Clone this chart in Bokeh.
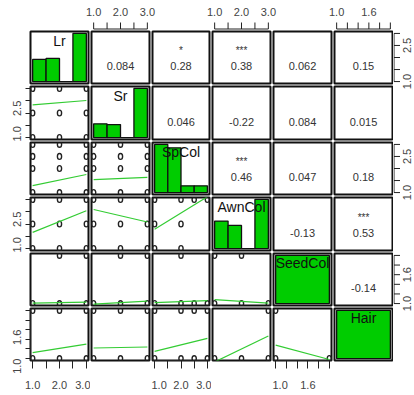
import math
from bokeh.plotting import figure
from bokeh.layouts import column, row
from bokeh.models import Range1d, FixedTicker, PrintfTickFormatter, AllLabels, Spacer
from bokeh.core.properties import value
from bokeh.embed import file_html
from bokeh.resources import INLINE

FONT = "Liberation Sans"

# ---------------- data ----------------
names = ["Lr", "Sr", "SpCol", "AwnCol", "SeedCol", "Hair"]
var_min = [1.0, 1.0, 1.0, 1.0, 1.0, 1.0]
var_max = [3.0, 3.0, 3.0, 3.0, 2.0, 2.0]

# histogram bins and relative bar heights (diagonal)
bins_3 = [1.0, 1.5, 2.0, 2.5, 3.0]
bins_2 = [1.0, 2.0]
hist_Lr = [0.46, 0.48, 0.0, 1.0]
hist_Sr = [0.28, 0.265, 0.0, 1.0]
hist_SpCol = [1.0, 0.93, 0.14, 0.14]
hist_AwnCol = [0.56, 0.47, 0.0, 1.0]
hist_SeedCol = [1.0]
hist_Hair = [1.0]

# correlations (upper triangle), row by row
cor_Lr = [0.084, 0.28, 0.38, 0.062, 0.15]
cor_Sr = [0.046, -0.22, 0.084, 0.015]
cor_SpCol = [0.46, 0.047, 0.18]
cor_AwnCol = [-0.13, 0.53]
cor_SeedCol = [-0.14]
stars_Lr = ["", "*", "***", "", ""]
stars_Sr = ["", "", "", ""]
stars_SpCol = ["***", "", ""]
stars_AwnCol = ["", "***"]
stars_SeedCol = [""]

# observed (x, y) combinations in lower panels: x = column var, y = row var
pts_Sr_Lr = [(1, 1), (2, 1), (3, 1), (1, 2), (2, 2), (3, 2), (1, 3), (2, 3), (3, 3)]
pts_SpCol_Lr = [(1, 1), (2, 1), (3, 1), (1, 2), (2, 2), (3, 2), (1, 2.5), (2, 2.5), (3, 2.5), (1, 3), (2, 3), (3, 3)]
pts_SpCol_Sr = [(1, 1), (2, 1), (3, 1), (1, 2), (2, 2), (3, 2), (1, 2.5), (2, 2.5), (3, 2.5), (1, 3), (2, 3), (3, 3)]
pts_AwnCol_Lr = [(1, 1), (2, 1), (3, 1), (1, 2), (2, 2), (3, 2), (1, 3), (2, 3), (3, 3)]
pts_AwnCol_Sr = [(1, 1), (2, 1), (3, 1), (1, 2), (2, 2), (3, 2), (1, 3), (2, 3), (3, 3)]
pts_AwnCol_SpCol = [(1, 1), (2, 1), (1, 2), (2, 2), (1, 3), (2, 3), (2.5, 3), (3, 3)]
pts_SeedCol_Lr = [(1, 1), (2, 1), (3, 1), (2, 2), (3, 2)]
pts_SeedCol_Sr = [(1, 1), (2, 1), (3, 1), (2, 2), (3, 2)]
pts_SeedCol_SpCol = [(1, 1), (2, 1), (2.5, 1), (3, 1), (2, 2)]
pts_SeedCol_AwnCol = [(1, 1), (2, 1), (3, 1), (1, 2), (2, 2)]
pts_Hair_Lr = [(1, 1), (2, 1), (3, 1), (1, 2), (2, 2), (3, 2)]
pts_Hair_Sr = [(1, 1), (2, 1), (3, 1), (1, 2), (2, 2), (3, 2)]
pts_Hair_SpCol = [(1, 1), (2, 1), (2.5, 1), (3, 1), (1, 2), (2, 2), (2.5, 2), (3, 2)]
pts_Hair_AwnCol = [(1, 1), (2, 1), (3, 1), (3, 2)]
pts_Hair_SeedCol = [(1, 1), (2, 1), (1, 2)]

# smoother line: y at x-min and at x-max
fit_Sr_Lr = [2.33, 2.51]
fit_SpCol_Lr = [1.29, 1.75]
fit_SpCol_Sr = [1.54, 1.63]
fit_AwnCol_Lr = [1.66, 2.54]
fit_AwnCol_Sr = [2.59, 2.08]
fit_AwnCol_SpCol = [1.79, 3.11]
fit_SeedCol_Lr = [1.01, 1.03]
fit_SeedCol_Sr = [0.99, 1.05]
fit_SeedCol_SpCol = [1.02, 1.06]
fit_SeedCol_AwnCol = [1.08, 1.01]
fit_Hair_Lr = [1.125, 1.30]
fit_Hair_Sr = [1.22, 1.24]
fit_Hair_SpCol = [1.15, 1.42]
fit_Hair_AwnCol = [0.93, 1.47]
fit_Hair_SeedCol = [1.28, 0.98]

# axis ticks (labelled / unlabelled)
ticks3_x_lab = [1.0, 2.0, 3.0]
ticks3_x_min = [1.5, 2.5]
ticks3_y_lab = [1.0, 2.5]
ticks3_y_min = [1.5, 2.0, 3.0]
ticks2_lab = [1.0, 1.6]
ticks2_min = [1.2, 1.4, 1.8, 2.0]

# --------------- assembly ---------------
hist_all = [(bins_3, hist_Lr), (bins_3, hist_Sr), (bins_3, hist_SpCol),
            (bins_3, hist_AwnCol), (bins_2, hist_SeedCol), (bins_2, hist_Hair)]
cor_rows = [cor_Lr, cor_Sr, cor_SpCol, cor_AwnCol, cor_SeedCol]
star_rows = [stars_Lr, stars_Sr, stars_SpCol, stars_AwnCol, stars_SeedCol]
lower = {
    (1, 0): (pts_Sr_Lr, fit_Sr_Lr),
    (2, 0): (pts_SpCol_Lr, fit_SpCol_Lr), (2, 1): (pts_SpCol_Sr, fit_SpCol_Sr),
    (3, 0): (pts_AwnCol_Lr, fit_AwnCol_Lr), (3, 1): (pts_AwnCol_Sr, fit_AwnCol_Sr),
    (3, 2): (pts_AwnCol_SpCol, fit_AwnCol_SpCol),
    (4, 0): (pts_SeedCol_Lr, fit_SeedCol_Lr), (4, 1): (pts_SeedCol_Sr, fit_SeedCol_Sr),
    (4, 2): (pts_SeedCol_SpCol, fit_SeedCol_SpCol), (4, 3): (pts_SeedCol_AwnCol, fit_SeedCol_AwnCol),
    (5, 0): (pts_Hair_Lr, fit_Hair_Lr), (5, 1): (pts_Hair_Sr, fit_Hair_Sr),
    (5, 2): (pts_Hair_SpCol, fit_Hair_SpCol), (5, 3): (pts_Hair_AwnCol, fit_Hair_AwnCol),
    (5, 4): (pts_Hair_SeedCol, fit_Hair_SeedCol),
}

frame_w = [58, 58, 57, 58, 58, 58]
frame_h = [52, 53, 52, 53, 52, 52]
B_LEFT, B_BOTTOM = 30, 34
TOP_STRIP = 30      # height of the strip carrying the top axes
RIGHT_STRIP = 20    # width of the strip carrying the right axes
EXT = 9             # how far an axis strip reaches past its panel
TOTAL_W = 413
TOTAL_H = 394

panel_left = [B_LEFT]
for j in range(1, 6):
    panel_left.append(panel_left[-1] + frame_w[j - 1] + 3)
panel_top = [TOP_STRIP + 1]
for i in range(1, 6):
    panel_top.append(panel_top[-1] + frame_h[i - 1] + 3)

TICK_COLOR = "#222222"
LABEL_COLOR = "#444444"


def padded(lo, hi):
    d = (hi - lo) * 0.04
    return lo - d, hi + d


def pad_range(lo, hi):
    a, b = padded(lo, hi)
    return Range1d(a, b)


def tick_sets(k, is_x):
    if var_max[k] == 2.0:
        return ticks2_lab, ticks2_min
    if is_x:
        return ticks3_x_lab, ticks3_x_min
    return ticks3_y_lab, ticks3_y_min


def style_axis(ax, k, is_x, tick_out, standoff, rotate):
    lab, mnr = tick_sets(k, is_x)
    ax.ticker = FixedTicker(ticks=lab, minor_ticks=mnr)
    ax.formatter = PrintfTickFormatter(format="%.1f")
    ax.major_label_policy = AllLabels()
    ax.axis_line_color = TICK_COLOR
    ax.major_tick_line_color = TICK_COLOR
    ax.minor_tick_line_color = TICK_COLOR
    ax.major_tick_in = 0
    ax.minor_tick_in = 0
    ax.major_tick_out = tick_out
    ax.minor_tick_out = tick_out
    ax.major_label_standoff = standoff
    ax.major_label_text_font = FONT
    ax.major_label_text_font_size = "11px"
    ax.major_label_text_color = LABEL_COLOR
    if rotate:
        ax.major_label_orientation = math.pi / 2


def bare(p):
    p.grid.visible = False
    p.outline_line_color = None
    p.background_fill_color = "white"
    p.border_fill_color = "white"
    return p


def make_fig(i, j, xr, yr):
    xloc = "below" if (i == 5 and j % 2 == 0) else None
    yloc = "left" if (j == 0 and i % 2 == 1) else None
    p = figure(frame_width=frame_w[j], frame_height=frame_h[i], x_range=xr, y_range=yr,
               output_backend="svg", toolbar_location=None, tools="",
               x_axis_location=xloc, y_axis_location=yloc,
               min_border_left=B_LEFT if j == 0 else 1,
               min_border_right=2 if j < 5 else 1,
               min_border_top=1,
               min_border_bottom=B_BOTTOM if i == 5 else 2)
    p.grid.visible = False
    p.outline_line_color = "#111111"
    p.outline_line_width = 2
    p.background_fill_color = "white"
    p.border_fill_color = "white"
    if xloc == "below":
        style_axis(p.xaxis[0], j, True, 8, 12, False)
    if yloc == "left":
        style_axis(p.yaxis[0], i, False, 5, 8, True)
    return p


def top_strip(j, a, b):
    # top axis of column j; the strip's x scale equals the column's scale
    lo, hi = padded(var_min[j], var_max[j])
    ppu = frame_w[j] / (hi - lo)
    L = panel_left[j]
    xr = Range1d(lo - (L - a) / ppu, hi + (b - (L + frame_w[j])) / ppu)
    p = bare(figure(frame_width=b - a, frame_height=TOP_STRIP, x_range=xr,
                    y_range=Range1d(0, TOP_STRIP), output_backend="svg",
                    toolbar_location=None, tools="", x_axis_location=None, y_axis_location=None,
                    min_border=0, min_border_left=0, min_border_right=0,
                    min_border_top=0, min_border_bottom=0))
    lab, mnr = tick_sets(j, True)
    allt = sorted(lab + mnr)
    p.segment(x0=[allt[0]], y0=[1.5], x1=[allt[-1]], y1=[1.5], line_color=TICK_COLOR, line_width=1)
    p.segment(x0=allt, y0=[1.5] * len(allt), x1=allt, y1=[8.0] * len(allt),
              line_color=TICK_COLOR, line_width=1)
    p.text(x=lab, y=[19.0] * len(lab), text=["%.1f" % t for t in lab],
           text_align="center", text_baseline="middle",
           text_font=value(FONT), text_font_size="11px", text_color=LABEL_COLOR)
    return p


def right_strip(i, a, b):
    # right axis of row i; the strip's y scale equals the row's scale
    lo, hi = padded(var_min[i], var_max[i])
    ppu = frame_h[i] / (hi - lo)
    T = panel_top[i]
    yr = Range1d(lo - (b - (T + frame_h[i])) / ppu, hi + (T - a) / ppu)
    p = bare(figure(frame_width=RIGHT_STRIP, frame_height=b - a,
                    x_range=Range1d(0, RIGHT_STRIP), y_range=yr, output_backend="svg",
                    toolbar_location=None, tools="", x_axis_location=None, y_axis_location=None,
                    min_border=0, min_border_left=0, min_border_right=0,
                    min_border_top=0, min_border_bottom=0))
    lab, mnr = tick_sets(i, False)
    allt = sorted(lab + mnr)
    p.segment(x0=[0.5], y0=[allt[0]], x1=[0.5], y1=[allt[-1]], line_color=TICK_COLOR, line_width=1)
    p.segment(x0=[0.5] * len(allt), y0=allt, x1=[6.5] * len(allt), y1=allt,
              line_color=TICK_COLOR, line_width=1)
    p.text(x=[13.5] * len(lab), y=lab, text=["%.1f" % t for t in lab], angle=math.pi / 2,
           text_align="center", text_baseline="middle",
           text_font=value(FONT), text_font_size="11px", text_color=LABEL_COLOR)
    return p


# ---- top strip row ----
top_items = []
cur = 0
for j in range(1, 6, 2):
    a = panel_left[j] - EXT
    b = panel_left[j] + frame_w[j] + EXT if j < 5 else TOTAL_W
    if a > cur:
        top_items.append(Spacer(width=a - cur, height=TOP_STRIP))
    top_items.append(top_strip(j, a, b))
    cur = b

# ---- right strip column ----
right_items = []
cur = TOP_STRIP
for i in range(0, 6, 2):
    a = max(panel_top[i] - EXT, cur)
    b = panel_top[i] + frame_h[i] + EXT
    if a > cur:
        right_items.append(Spacer(width=RIGHT_STRIP, height=a - cur))
    right_items.append(right_strip(i, a, b))
    cur = b
if TOTAL_H > cur:
    right_items.append(Spacer(width=RIGHT_STRIP, height=TOTAL_H - cur))

# ---- panel matrix ----
panel_rows = []
for i in range(6):
    figs = []
    for j in range(6):
        if i == j:
            edges, heights = hist_all[i]
            p = make_fig(i, j, pad_range(var_min[i], var_max[i]), pad_range(0.0, max(heights)))
            p.quad(left=edges[:-1], right=edges[1:], bottom=[0.0] * len(heights), top=heights,
                   fill_color="#00cc00", line_color="#111111", line_width=1.3)
            p.text(x=[(var_min[i] + var_max[i]) / 2], y=[max(heights) * 1.04], text=[names[i]],
                   text_align="center", text_baseline="top", y_offset=1,
                   text_font=value(FONT), text_font_size="14px", text_color="#111111")
        elif j > i:
            p = make_fig(i, j, Range1d(0, 1), Range1d(0, 1))
            r = cor_rows[i][j - i - 1]
            s = star_rows[i][j - i - 1]
            p.text(x=[0.5], y=[0.33], text=[str(r)], text_align="center", text_baseline="middle",
                   text_font=value(FONT), text_font_size="11px", text_color="#333333")
            if s:
                p.text(x=[0.5], y=[0.63], text=[s], text_align="center", text_baseline="middle",
                       text_font=value(FONT), text_font_size="10px", text_color="#333333")
        else:
            p = make_fig(i, j, pad_range(var_min[j], var_max[j]), pad_range(var_min[i], var_max[i]))
            pts, fit = lower[(i, j)]
            p.ellipse(x=[a for a, b in pts], y=[b for a, b in pts], width=4.2, height=5.8,
                      width_units="screen", height_units="screen",
                      fill_color=None, line_color="#222222", line_width=1.4)
            p.line(x=[var_min[j], var_max[j]], y=fit, line_color="#33cc33", line_width=1.2)
        figs.append(p)
    panel_rows.append(row(*figs, spacing=0))

layout = column(
    row(*top_items, spacing=0),
    row(column(*panel_rows, spacing=0), column(*right_items, spacing=0), spacing=0),
    spacing=0,
)

open("out.html", "w").write(file_html(layout, INLINE))
